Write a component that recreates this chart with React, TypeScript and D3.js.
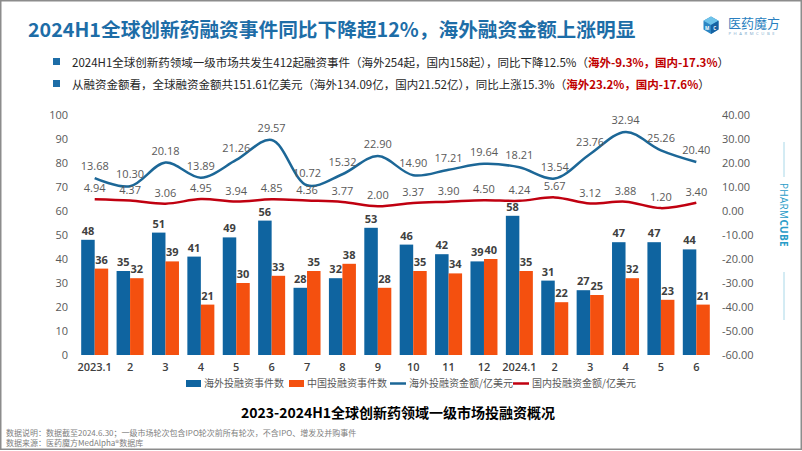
import React from "react";
import * as d3 from "d3";

const categories = ["2023.1","2","3","4","5","6","7","8","9","10","11","12","2024.1","2","3","4","5","6"];
const overseasCount = [48,35,51,41,49,56,28,32,53,46,42,39,58,31,27,47,47,44];
const chinaCount = [36,32,39,21,30,33,35,38,28,35,34,40,35,22,25,32,23,21];
const overseasAmount = [13.68,10.30,20.18,13.89,21.26,29.57,10.72,15.32,22.90,14.90,17.21,19.64,18.21,13.54,23.76,32.94,25.26,20.40];
const domesticAmount = [4.94,4.37,3.06,4.95,3.94,4.85,4.36,3.77,2.00,3.37,3.90,4.50,4.24,5.67,3.12,3.88,1.20,3.40];
const leftTicks = [0,10,20,30,40,50,60,70,80,90,100];
const rightTicks = [-60,-50,-40,-30,-20,-10,0,10,20,30,40];
const legendLabels = ["海外投融资事件数","中国投融资事件数","海外投融资金额/亿美元","国内投融资金额/亿美元"];

const FONT = "'Open Sans', 'Noto Sans CJK SC', sans-serif";
const CJK = "'Noto Sans CJK SC', 'Open Sans', sans-serif";
const BLUE = "#0F64A0";
const ORANGE = "#F4500F";
const LBLUE = "#1C6797";
const LRED = "#C00010";

export default function App() {
  const x = d3.scaleBand<number>().domain(categories.map((_, i) => i)).range([77, 714]);
  const bw = x.bandwidth();
  const cx = (i: number) => (x(i) as number) + bw / 2;
  const yL = d3.scaleLinear().domain([0, 100]).range([355, 115]);
  const yR = d3.scaleLinear().domain([-60, 40]).range([355, 115]);
  const barW = 13.5;
  const curve = d3.curveCatmullRom.alpha(0.5);
  const lineGen = d3.line<number>().x((_, i) => cx(i)).y((d) => yR(d)).curve(curve);

  return (
    <svg width={802} height={451} style={{ position: "absolute", left: 0, top: 0, background: "#fff" }} fontFamily={FONT}>
      <rect x={0} y={0} width={802} height={451} fill="#fff" />
      {/* title */}
      <text x={28} y={37} fontFamily={CJK} fontSize={19.7} fontWeight="bold" fill="#1D6DA7">
        2024H1全球创新药融资事件同比下降超12%，海外融资金额上涨明显
      </text>
      {/* logo */}
      <g transform="translate(711,25)">
        <polygon points="0,-8.5 7.5,-4.2 7.5,4.6 0,9 -7.5,4.6 -7.5,-4.2" fill="#2B86C4" />
        <polygon points="0,-8.5 7.5,-4.2 0,0 -7.5,-4.2" fill="#6EC3EA" />
        <polygon points="0,0 7.5,-4.2 7.5,4.6 0,9" fill="#1663A3" />
        <text x={-3.8} y={5} fontSize={4.5} fill="#fff" textAnchor="middle" fontWeight="bold">M</text>
        <text x={3.8} y={5} fontSize={4.5} fill="#fff" textAnchor="middle" fontWeight="bold">C</text>
      </g>
      <text x={728} y={28} fontFamily={CJK} fontSize={13} fill="#2A7FC0">医药魔方</text>
      <text x={728.5} y={35} fontSize={4.2} fill="#7aa9cc" letterSpacing={2.6}>PHARMCUBE</text>

      {/* bullets */}
      <rect x={53} y={58} width={7} height={7} fill="#1D6DA7" />
      <rect x={53} y={80} width={7} height={7} fill="#1D6DA7" />
      <text x={72} y={66.5} fontFamily={CJK} fontSize={11.5} fill="#262626">
        2024H1全球创新药领域一级市场共发生412起融资事件（海外254起，国内158起），同比下降12.5%（
        <tspan fill="#C00000" fontWeight="bold">海外-9.3%，国内-17.3%</tspan>）
      </text>
      <text x={72} y={88.5} fontFamily={CJK} fontSize={11.5} fill="#262626">
        从融资金额看，全球融资金额共151.61亿美元（海外134.09亿，国内21.52亿），同比上涨15.3%（
        <tspan fill="#C00000" fontWeight="bold">海外23.2%，国内-17.6%</tspan>）
      </text>

      {/* axes */}
      {leftTicks.map((t) => (
        <text key={"l" + t} x={68} y={yL(t) + 4} fontSize={11} fill="#595959" textAnchor="end">{t}</text>
      ))}
      {rightTicks.map((t) => (
        <text key={"r" + t} x={722} y={yR(t) + 4} fontSize={11} fill="#595959" textAnchor="start">{t.toFixed(2)}</text>
      ))}
      {categories.map((c, i) => (
        <text key={"x" + i} x={cx(i)} y={371} fontSize={11} fill="#404040" textAnchor="middle" fontWeight={600}>{c}</text>
      ))}

      {/* bars */}
      {overseasCount.map((v, i) => (
        <g key={"b" + i}>
          <rect x={cx(i) - barW} y={yL(v)} width={barW} height={yL(0) - yL(v)} fill={BLUE} />
          <text x={cx(i) - barW / 2} y={yL(v) - 5} fontSize={11} fontWeight="bold" fill="#404040" textAnchor="middle">{v}</text>
        </g>
      ))}
      {chinaCount.map((v, i) => (
        <g key={"o" + i}>
          <rect x={cx(i)} y={yL(v)} width={barW} height={yL(0) - yL(v)} fill={ORANGE} />
          <text x={cx(i) + barW / 2} y={yL(v) - 5} fontSize={11} fontWeight="bold" fill="#404040" textAnchor="middle">{v}</text>
        </g>
      ))}

      {/* lines */}
      <path d={lineGen(overseasAmount) || ""} fill="none" stroke={LBLUE} strokeWidth={2.5} />
      <path d={lineGen(domesticAmount) || ""} fill="none" stroke={LRED} strokeWidth={2.5} />
      {overseasAmount.map((v, i) => (
        <text key={"ol" + i} x={cx(i)} y={yR(v) - 8} fontSize={11} fill="#595959" textAnchor="middle">{v.toFixed(2)}</text>
      ))}
      {domesticAmount.map((v, i) => (
        <text key={"dl" + i} x={cx(i)} y={yR(v) - 7} fontSize={11} fill="#595959" textAnchor="middle">{v.toFixed(2)}</text>
      ))}

      {/* legend */}
      <g fontFamily={CJK} fontSize={10} fill="#595959">
        <rect x={186} y={380} width={15} height={7} fill={BLUE} />
        <text x={204} y={387}>{legendLabels[0]}</text>
        <rect x={289} y={380} width={15} height={7} fill={ORANGE} />
        <text x={307} y={387}>{legendLabels[1]}</text>
        <line x1={390} x2={406} y1={383.5} y2={383.5} stroke={LBLUE} strokeWidth={2.5} />
        <text x={409} y={387}>{legendLabels[2]}</text>
        <line x1={513} x2={529} y1={383.5} y2={383.5} stroke={LRED} strokeWidth={2.5} />
        <text x={532} y={387}>{legendLabels[3]}</text>
      </g>

      {/* subtitle */}
      <text x={398} y={418} fontFamily={CJK} fontSize={14} fontWeight="bold" fill="#000" textAnchor="middle">
        2023-2024H1全球创新药领域一级市场投融资概况
      </text>

      {/* footnotes */}
      <text x={6} y={436} fontFamily={CJK} fontSize={8} fill="#808080">数据说明：数据截至2024.6.30；一级市场轮次包含IPO轮次前所有轮次，不含IPO、增发及并购事件</text>
      <text x={6} y={446} fontFamily={CJK} fontSize={8} fill="#808080">数据来源：医药魔方MedAlpha®数据库</text>

      {/* vertical brand */}
      <line x1={784} x2={784} y1={142} y2={177} stroke="#A9D8E8" strokeWidth={1} />
      <line x1={784} x2={784} y1={272} y2={320} stroke="#A9D8E8" strokeWidth={1} />
      <text transform="translate(780,183) rotate(90)" fontSize={10} fill="#2A9CC8" letterSpacing={0.3}>
        PHARM<tspan fontWeight="bold">CUBE</tspan>
      </text>

      {/* frame */}
      <rect x={0.75} y={0.75} width={800.5} height={448.5} fill="none" stroke="#8c8c8c" strokeWidth={1.5} />
    </svg>
  );
}
